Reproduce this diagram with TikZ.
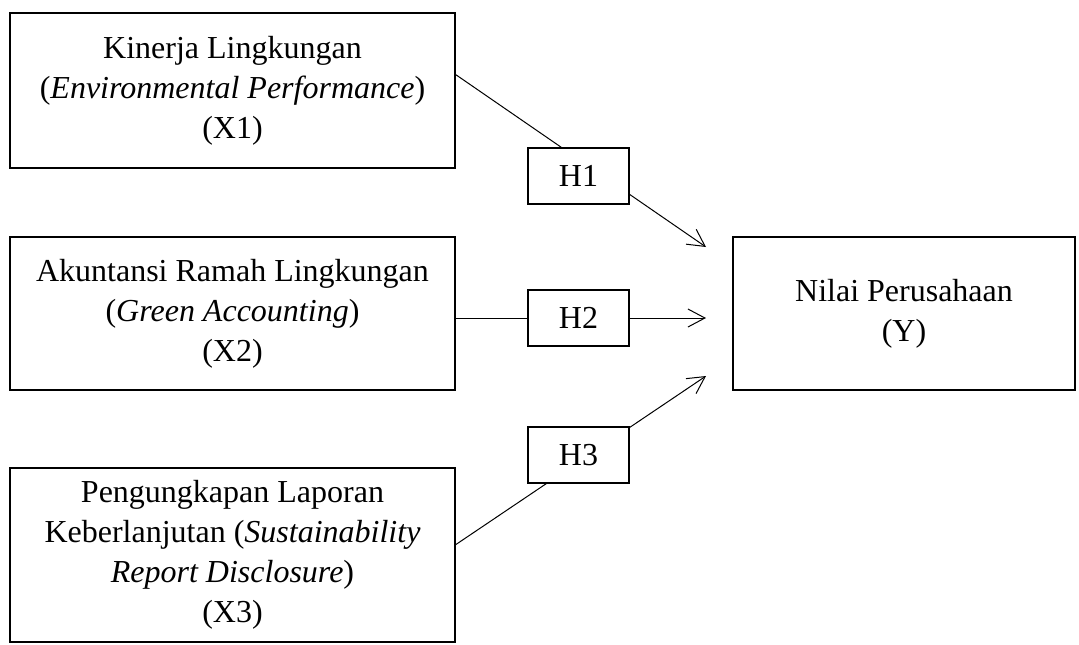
\documentclass[tikz,border=0pt]{standalone}
\usepackage{fontspec}
\setmainfont{Liberation Serif}
\usetikzlibrary{positioning}
\usetikzlibrary{calc}
\usetikzlibrary{arrows.meta}
\usetikzlibrary{backgrounds}

\begin{document}
\begin{tikzpicture}[x=0.5pt, y=-0.5pt]
% tikz settings
\fontsize{16}{20}\selectfont
\tikzstyle{varbox} = [rectangle, draw, line width=1pt, align=center,
    minimum width=222.5pt, inner sep=0pt]
\tikzstyle{hypbox} = [rectangle, draw, line width=1pt, fill=white,
    minimum width=50.5pt, minimum height=28pt, inner sep=0pt]
\tikzstyle{line} = [draw, line width=0.5pt, -{Straight Barb[length=8.5pt, width=9pt]}]

\useasboundingbox (0,0) rectangle (1079,644);

% the tikz picture
\node [varbox, minimum height=77.5pt] (envperf) at (232.5,90.5)
    {Kinerja Lingkungan \\ (\textit{Environmental Performance}) \\ (X1)};
\node [varbox, minimum height=76.5pt] (greenacc) at (232.5,313.5)
    {Akuntansi Ramah Lingkungan \\ (\textit{Green Accounting}) \\ (X2)};
\node [varbox, minimum height=87pt] (sustrep) at (232.5,555)
    {Pengungkapan Laporan \\ Keberlanjutan (\textit{Sustainability} \\ \textit{Report Disclosure}) \\ (X3)};
\node [varbox, minimum width=171pt, minimum height=76.5pt] (firmvalue) at (904,313.5)
    {Nilai Perusahaan \\ (Y)};

\node [hypbox] (hypA) at (578.5,176) {H1};
\node [hypbox] (hypB) at (578.5,317.5) {H2};
\node [hypbox] (hypC) at (578.5,455) {H3};

\coordinate (tipA) at (706,247);
\coordinate (tipB) at (706,318);
\coordinate (tipC) at (706,376);

\begin{pgfonlayer}{background}
\path [line] ($(envperf.north east)!0.4!(envperf.south east)$) -- (tipA);
\path [line] (greenacc.east |- tipB) -- (tipB);
\path [line] ($(sustrep.north east)!0.44!(sustrep.south east)$) -- (tipC);
\end{pgfonlayer}
\end{tikzpicture}
\end{document}
